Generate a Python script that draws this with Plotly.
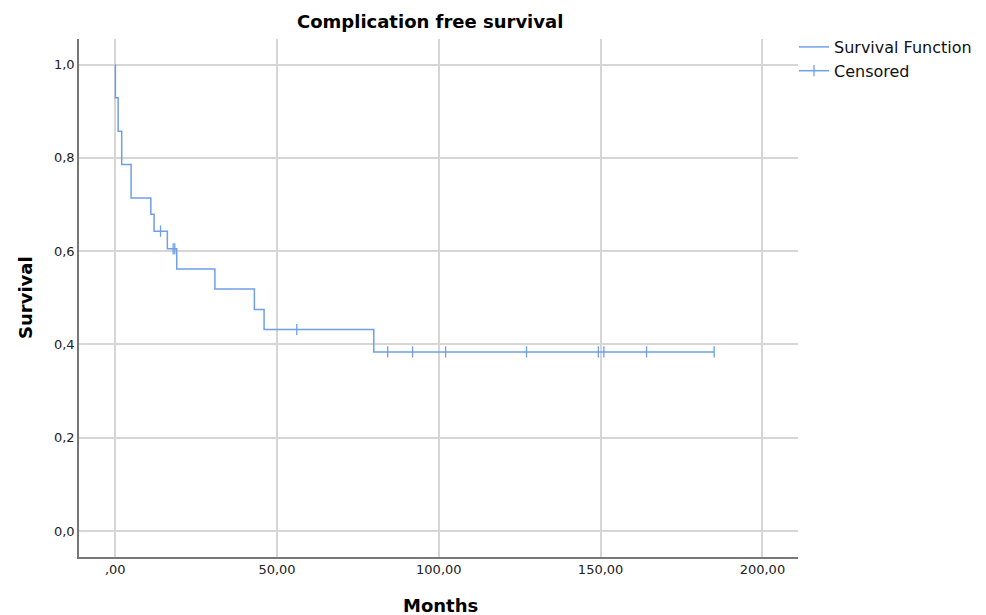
import plotly.graph_objects as go

# Survival step function (time in months, survival proportion)
step_times = [0, 0.05, 0.9, 2.0, 4.9, 11.0, 12.0, 16.1, 19.0, 30.8, 43.0, 46.0, 79.9, 185.1]
step_surv = [1.0, 0.929, 0.857, 0.786, 0.714, 0.679, 0.643, 0.605, 0.562, 0.519, 0.475, 0.432, 0.384, 0.384]

# Censored observations
cens_times = [14.0, 17.9, 18.4, 56.1, 84.2, 91.9, 102.1, 127.1, 149.3, 151.0, 164.2, 185.1]
cens_surv = [0.643, 0.605, 0.605, 0.432, 0.384, 0.384, 0.384, 0.384, 0.384, 0.384, 0.384, 0.384]

x_tick_vals = [0, 50, 100, 150, 200]
x_tick_text = [",00", "50,00", "100,00", "150,00", "200,00"]
y_tick_vals = [0.0, 0.2, 0.4, 0.6, 0.8, 1.0]
y_tick_text = ["0,0", "0,2", "0,4", "0,6", "0,8", "1,0"]

line_color = "#6f9fe8"
font_family = "DejaVu Sans"

# break censored points so no line connects them
cx, cy = [], []
for t, s in zip(cens_times, cens_surv):
    cx += [t, None]
    cy += [s, None]

fig = go.Figure()
fig.add_trace(go.Scatter(
    x=step_times, y=step_surv, mode="lines", line_shape="hv",
    line=dict(color=line_color, width=1.5), name="Survival Function",
    hoverinfo="skip"))
fig.add_trace(go.Scatter(
    x=cx, y=cy, mode="lines+markers", connectgaps=False,
    line=dict(color=line_color, width=1.5),
    marker=dict(symbol="line-ns", size=8, color=line_color,
                line=dict(color=line_color, width=1.3)),
    name="Censored", hoverinfo="skip"))

# page body has an 8px margin: figure is sized/offset to compensate
fig_w, fig_h = 978, 607
plot_h = 518
fig.update_layout(
    width=fig_w, height=fig_h,
    margin=dict(l=71, r=188, t=31, b=58, autoexpand=False),
    paper_bgcolor="white", plot_bgcolor="white",
    font=dict(family=font_family, size=12, color="#222"),
    showlegend=True,
    legend=dict(xref="container", yref="container",
                x=786 / fig_w, y=1 - 22 / fig_h, xanchor="left", yanchor="top",
                font=dict(size=16, color="#111"), tracegroupgap=0,
                itemwidth=30, bgcolor="rgba(0,0,0,0)",
                borderwidth=0),
    xaxis=dict(range=[-11.2, 211.0], tickvals=x_tick_vals, ticktext=x_tick_text,
               showgrid=True, gridcolor="#d6d6d6", gridwidth=2,
               zeroline=False, showline=True, linecolor="#777", linewidth=1.5,
               ticks="", tickfont=dict(size=13, color="#222")),
    yaxis=dict(range=[-0.0558, 1.055], tickvals=y_tick_vals, ticktext=y_tick_text,
               showgrid=True, gridcolor="#d6d6d6", gridwidth=1.5,
               zeroline=False, showline=True, linecolor="#777", linewidth=1.5,
               ticks="", tickfont=dict(size=13, color="#222")),
    annotations=[
        dict(text="<b>Complication free survival</b>", xref="paper", yref="paper",
             x=(430 - 79) / 719, y=1.0, yshift=18, xanchor="center", yanchor="middle",
             showarrow=False, font=dict(size=18, color="#000")),
        dict(text="<b>Months</b>", xref="paper", yref="paper",
             x=(440 - 79) / 719, y=0, yshift=-48, xanchor="center", yanchor="middle",
             showarrow=False, font=dict(size=18, color="#000")),
        dict(text="<b>Survival</b>", xref="paper", yref="paper",
             x=0, xshift=-54, y=(557 - 298) / plot_h, xanchor="center", yanchor="middle",
             textangle=-90, showarrow=False, font=dict(size=18, color="#000")),
    ],
)

fig.write_html("out.html")
